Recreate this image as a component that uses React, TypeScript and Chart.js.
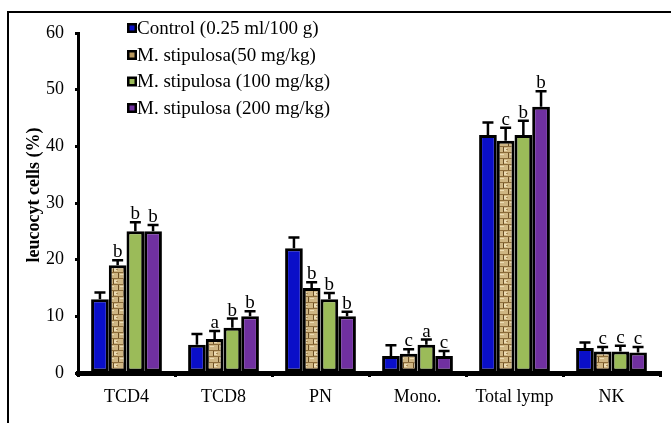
import React, { useEffect, useRef } from "react";
import { Chart, registerables } from "chart.js";

Chart.register(...registerables);

const categories = ["TCD4", "TCD8", "PN", "Mono.", "Total lymp", "NK"];
const seriesLabels = [
  "Control (0.25 ml/100 g)",
  "M. stipulosa(50 mg/kg)",
  "M. stipulosa (100 mg/kg)",
  "M. stipulosa (200 mg/kg)",
];
const control = [13, 5, 22, 3, 42, 4.4];
const ms50 = [19, 6, 15, 3.4, 41, 3.8];
const ms100 = [25, 8, 13, 5, 42, 3.8];
const ms200 = [25, 10, 10, 3, 47, 3.6];

const controlErr = [1.2, 1.9, 1.9, 1.9, 2.2, 1.0];
const ms50Err = [0.9, 1.4, 1.0, 0.8, 2.3, 0.8];
const ms100Err = [1.6, 1.6, 1.1, 0.9, 2.5, 1.0];
const ms200Err = [1.1, 0.9, 0.8, 0.9, 2.7, 1.0];

const controlLetters = ["", "", "", "", "", ""];
const ms50Letters = ["b", "a", "b", "c", "c", "c"];
const ms100Letters = ["b", "b", "b", "a", "b", "c"];
const ms200Letters = ["b", "b", "b", "c", "b", "c"];

const yTicks = [0, 10, 20, 30, 40, 50, 60];

const FONT = "'Liberation Serif', 'Times New Roman', serif";

function makeTanPattern(): CanvasPattern | string {
  const c = document.createElement("canvas");
  c.width = 10;
  c.height = 12;
  const g = c.getContext("2d");
  if (!g) return "#c8ae7c";
  g.fillStyle = "#cfb683";
  g.fillRect(0, 0, 10, 12);
  g.fillStyle = "#8c6c3a";
  g.fillRect(0, 2, 10, 1);
  g.fillRect(0, 8, 10, 1);
  g.fillStyle = "#6a4e24";
  g.fillRect(3, 3, 1, 5);
  g.fillRect(8, 9, 1, 3);
  g.fillRect(8, 0, 1, 2);
  g.fillStyle = "#ecdcb4";
  g.fillRect(4, 4, 3, 3);
  g.fillRect(0, 10, 4, 1);
  g.fillStyle = "#a98a55";
  g.fillRect(6, 5, 2, 1);
  return g.createPattern(c, "repeat") || "#c8ae7c";
}

export default function App() {
  const ref = useRef<HTMLCanvasElement | null>(null);

  useEffect(() => {
    if (!ref.current) return;
    const tan = makeTanPattern();
    const errs = [controlErr, ms50Err, ms100Err, ms200Err];
    const letters = [controlLetters, ms50Letters, ms100Letters, ms200Letters];
    const legendColors = ["#0a0fc8", "#b8985e", "#9bbb59", "#7030a0"];

    const overlay = {
      id: "overlay",
      afterDatasetsDraw(chart: any) {
        const ctx = chart.ctx;
        const y = chart.scales.y;
        ctx.save();
        chart.data.datasets.forEach((ds: any, di: number) => {
          const meta = chart.getDatasetMeta(di);
          meta.data.forEach((bar: any, i: number) => {
            const v = ds.data[i];
            const top = y.getPixelForValue(v);
            const tip = y.getPixelForValue(v + errs[di][i]);
            ctx.strokeStyle = "#000";
            ctx.lineWidth = 2.5;
            ctx.beginPath();
            ctx.moveTo(bar.x, top);
            ctx.lineTo(bar.x, tip);
            ctx.moveTo(bar.x - 5.5, tip);
            ctx.lineTo(bar.x + 5.5, tip);
            ctx.stroke();
            const l = letters[di][i];
            if (l) {
              ctx.fillStyle = "#000";
              ctx.font = `19px ${FONT}`;
              ctx.textAlign = "center";
              ctx.textBaseline = "alphabetic";
              ctx.fillText(l, bar.x, tip - 3);
            }
          });
        });
        ctx.restore();
      },
      afterDraw(chart: any) {
        const ctx = chart.ctx;
        ctx.save();
        const rows = [28, 55, 81.5, 108];
        seriesLabels.forEach((lab, i) => {
          const cy = rows[i];
          ctx.fillStyle = "#000";
          ctx.fillRect(127, cy - 5, 10, 10);
          ctx.fillStyle = legendColors[i];
          ctx.fillRect(129.5, cy - 2.5, 5, 5);
          ctx.fillStyle = "#000";
          ctx.font = `19px ${FONT}`;
          ctx.textAlign = "left";
          ctx.textBaseline = "middle";
          ctx.fillText(lab, 137, cy + 1);
        });
        ctx.translate(34, 195);
        ctx.rotate(-Math.PI / 2);
        ctx.font = `bold 18px ${FONT}`;
        ctx.textAlign = "center";
        ctx.textBaseline = "middle";
        ctx.fillStyle = "#000";
        ctx.fillText("leucocyt cells (%)", 0, 0);
        ctx.restore();
      },
    };

    const mk = (label: string, data: number[], bg: any) => ({
      label,
      data,
      backgroundColor: bg,
      borderColor: "#000",
      borderWidth: 3,
      borderSkipped: false,
    });

    const chart = new Chart(ref.current, {
      type: "bar",
      data: {
        labels: categories,
        datasets: [
          mk(seriesLabels[0], control, "#0a0fc8"),
          mk(seriesLabels[1], ms50, tan),
          mk(seriesLabels[2], ms100, "#9bbb59"),
          mk(seriesLabels[3], ms200, "#7030a0"),
        ],
      },
      options: {
        animation: false,
        responsive: false,
        layout: { padding: { left: 0, top: 33, right: 11, bottom: 0 } },
        plugins: {
          legend: { display: false },
          tooltip: { enabled: false },
        },
        datasets: {
          bar: { categoryPercentage: 0.73, barPercentage: 1.0 },
        },
        scales: {
          x: {
            offset: true,
            grid: {
              display: true,
              offset: true,
              drawOnChartArea: false,
              drawTicks: true,
              tickLength: 4,
              color: "#000",
              lineWidth: 3,
            },
            border: { display: true, color: "#000", width: 5 },
            ticks: {
              color: "#000",
              font: { family: FONT, size: 18 },
              padding: 9,
              maxRotation: 0,
              autoSkip: false,
            },
            afterFit(scale: any) {
              scale.height = 50;
            },
          },
          y: {
            min: 0,
            max: 60,
            afterBuildTicks(scale: any) {
              scale.ticks = yTicks.map((v) => ({ value: v }));
            },
            grid: {
              display: true,
              drawOnChartArea: false,
              drawTicks: true,
              tickLength: 3,
              color: "#000",
              lineWidth: 3,
            },
            border: { display: true, color: "#000", width: 3 },
            ticks: {
              color: "#000",
              font: { family: FONT, size: 18 },
              padding: 11,
            },
            afterFit(scale: any) {
              scale.width = 78;
            },
          },
        },
      },
      plugins: [overlay],
    });
    return () => chart.destroy();
  }, []);

  return (
    <div
      style={{
        position: "absolute",
        left: 0,
        top: 0,
        width: 671,
        height: 423,
        overflow: "hidden",
        background: "#fff",
      }}
    >
      <div
        style={{
          position: "absolute",
          left: 7,
          top: 11,
          width: 720,
          height: 500,
          border: "2px solid #000",
        }}
      />
      <canvas
        ref={ref}
        width={671}
        height={423}
        style={{ position: "absolute", left: 0, top: 0, width: 671, height: 423 }}
      />
    </div>
  );
}
